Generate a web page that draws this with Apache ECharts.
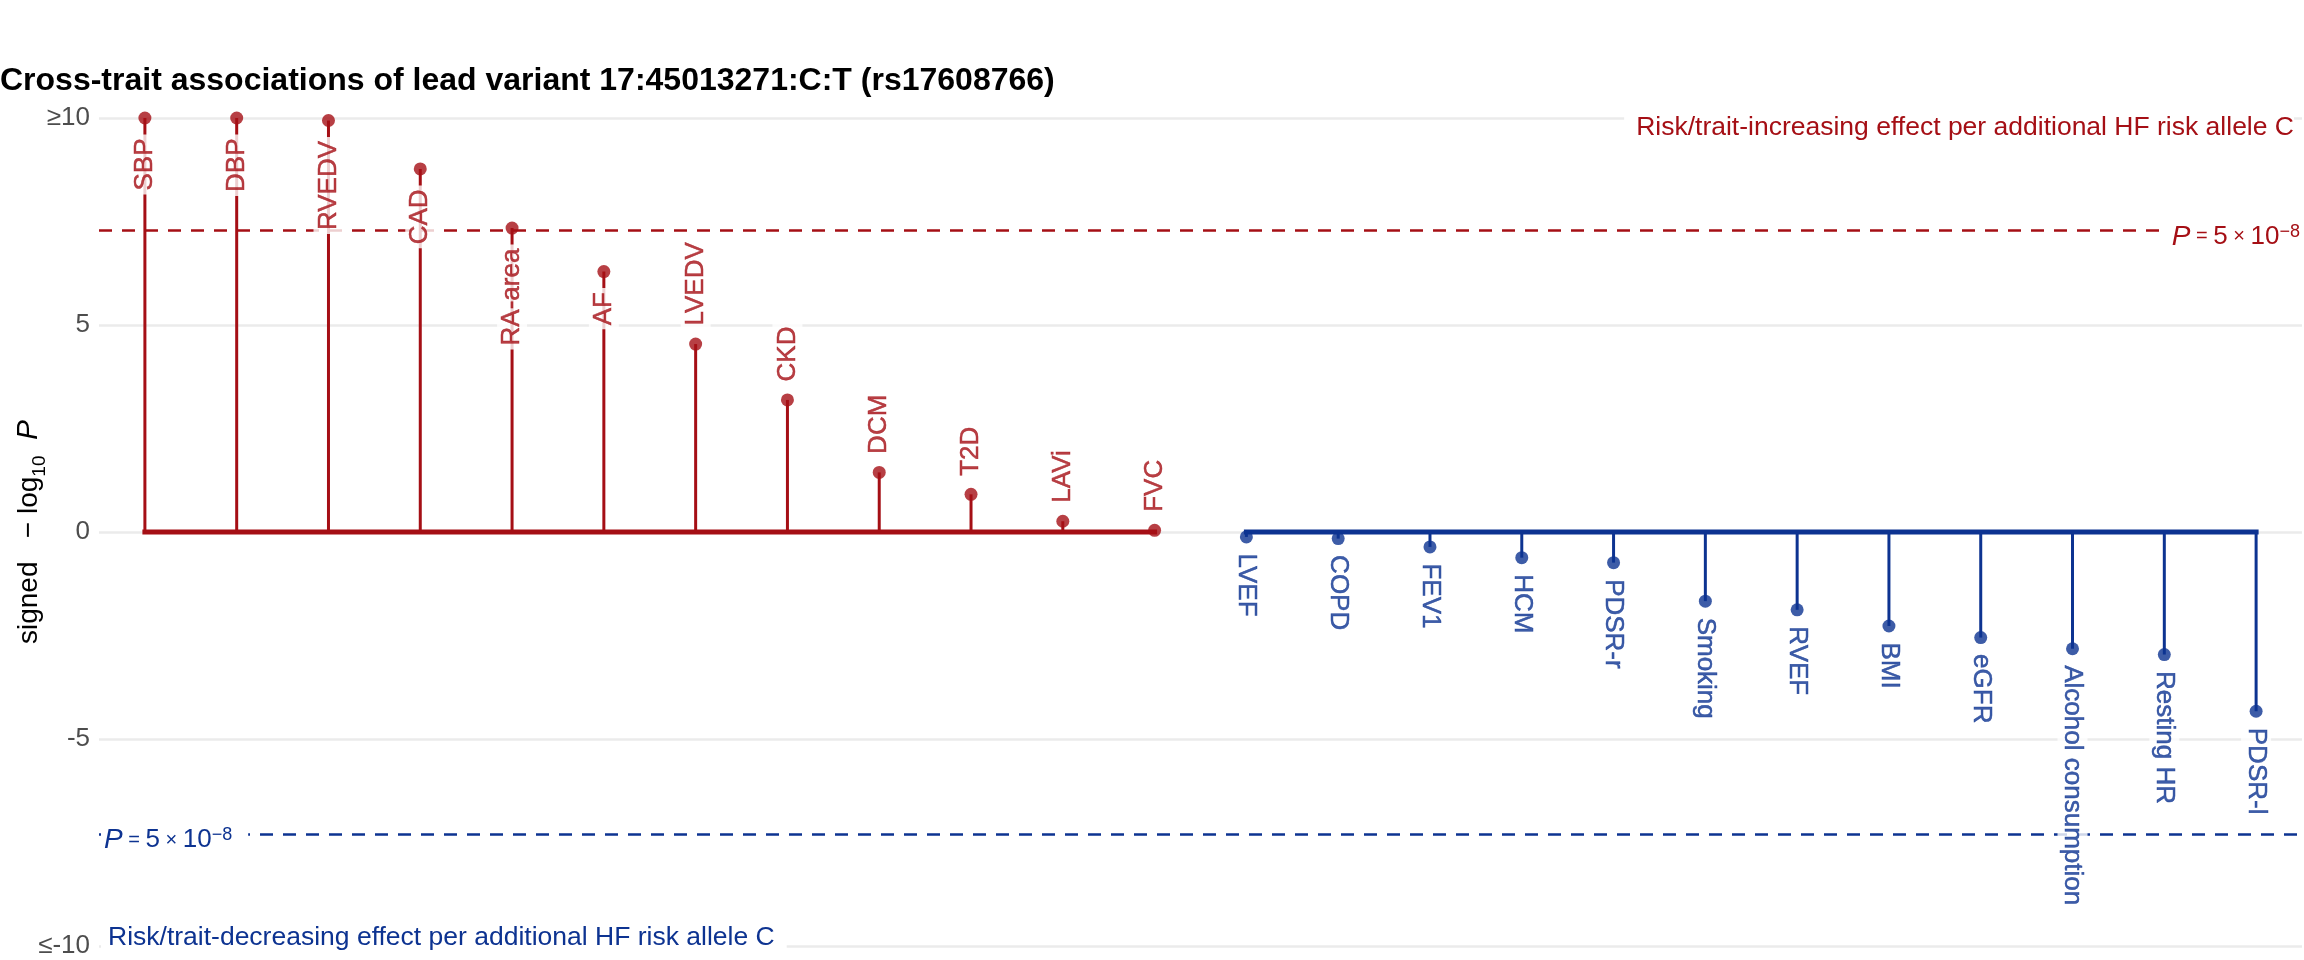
<!DOCTYPE html>
<html><head><meta charset="utf-8">
<script src="https://cdn.jsdelivr.net/npm/echarts@6/dist/echarts.min.js"></script>
<style>html,body{margin:0;padding:0;background:#fff}#c{width:2304px;height:960px}</style>
</head><body><div id="c"></div>
<script>
// ---- data ----
const riskTraits = ['SBP','DBP','RVEDV','CAD','RA-area','AF','LVEDV','CKD','DCM','T2D','LAVi','FVC'];
const riskValues = [10, 10, 9.94, 8.77, 7.34, 6.29, 4.54, 3.19, 1.44, 0.91, 0.26, 0.04];
const protTraits = ['LVEF','COPD','FEV1','HCM','PDSR-r','Smoking','RVEF','BMI','eGFR','Alcohol consumption','Resting HR','PDSR-l'];
const protValues = [-0.12, -0.16, -0.36, -0.62, -0.74, -1.67, -1.88, -2.27, -2.55, -2.82, -2.96, -4.33];
const yTickLabels = {'10': '\u226510', '5': '5', '0': '0', '-5': '-5', '-10': '\u2264-10'};
const gwThreshold = 7.3; // -log10(5e-8)
const titleText = 'Cross-trait associations of lead variant 17:45013271:C:T (rs17608766)';
const upText = 'Risk/trait-increasing effect per additional HF risk allele C';
const downText = 'Risk/trait-decreasing effect per additional HF risk allele C';

// ---- styles ----
const RED = '#a50f15', BLUE = '#0d3391';
const FONT = '"Liberation Sans", Arial, Helvetica, sans-serif';
const LBL = 26;

const categories = riskTraits.concat(protTraits);
const nR = riskTraits.length;
const allValues = riskValues.concat(protValues);

const chart = echarts.init(document.getElementById('c'), null, {renderer: 'canvas'});

const stemData = allValues.map((v, i) => ({value: v, itemStyle: {color: i < nR ? RED : BLUE}}));
const riskBase = categories.map((c, i) => i < nR ? 0 : null);
const protBase = categories.map((c, i) => i >= nR ? 0 : null);

const riskPts = riskValues.map((v, i) => {
  const inside = v >= 5;
  return {
    value: [i, v],
    label: {
      position: inside ? 'bottom' : 'top',
      align: inside ? 'right' : 'left',
      distance: inside ? 10 : 8
    }
  };
});
const protPts = protValues.map((v, i) => ({value: [nR + i, v]}));

const labelBase = {
  show: true, fontSize: LBL, fontFamily: FONT, verticalAlign: 'middle',
  backgroundColor: '#fff', padding: [0, 4, 0, 4], lineHeight: 30, textBorderWidth: 0.5
};

const option = {
  animation: false,
  backgroundColor: '#fff',
  title: {
    text: titleText, left: 0, top: 65, padding: 0,
    textStyle: {fontSize: 32, fontWeight: 'bold', color: '#000', fontFamily: FONT}
  },
  grid: {left: 99, right: 2, top: 118, bottom: 14, containLabel: false, outerBoundsMode: 'none'},
  xAxis: {
    type: 'category', data: categories, boundaryGap: true,
    axisLine: {show: false}, axisTick: {show: false}, axisLabel: {show: false}, splitLine: {show: false}
  },
  yAxis: {
    type: 'value', min: -10, max: 10, interval: 5,
    axisLine: {show: false}, axisTick: {show: false},
    splitLine: {show: true, lineStyle: {color: '#ebebeb', width: 2.5}},
    axisLabel: {
      color: '#4d4d4d', fontSize: 26, fontFamily: FONT, margin: 9,
      formatter: v => yTickLabels[String(v)] ?? String(v)
    },
    name: '{t|signed   \u2212 log}{s|10}{t|  }{i|P}',
    nameLocation: 'middle', nameRotate: 90, nameGap: 50, nameMoveOverlap: false,
    nameTextStyle: {
      color: '#000', fontFamily: FONT,
      rich: {
        t: {fontSize: 28, lineHeight: 40, color: '#000', fontFamily: FONT},
        s: {fontSize: 19, lineHeight: 18, verticalAlign: 'bottom', color: '#000', fontFamily: FONT},
        i: {fontSize: 30, lineHeight: 40, fontStyle: 'italic', color: '#000', fontFamily: FONT}
      }
    }
  },
  series: [
    {
      name: 'stems', type: 'bar', data: stemData, barWidth: 3, z: 2,
      markLine: {
        silent: true, symbol: 'none', label: {show: false},
        data: [
          {yAxis: gwThreshold, lineStyle: {color: RED, type: [13, 10], width: 2.5}},
          {yAxis: -gwThreshold, lineStyle: {color: BLUE, type: [13, 10], width: 2.5}}
        ]
      }
    },
    {
      name: 'riskBase', type: 'line', data: riskBase, symbol: 'none', z: 3,
      lineStyle: {color: RED, width: 5, cap: 'square'}
    },
    {
      name: 'protBase', type: 'line', data: protBase, symbol: 'none', z: 3,
      lineStyle: {color: BLUE, width: 5, cap: 'square'}
    },
    {
      name: 'riskPts', type: 'scatter', data: riskPts, symbol: 'circle', symbolSize: 13, z: 5,
      itemStyle: {color: RED},
      label: Object.assign({}, labelBase, {
        color: RED, textBorderColor: RED, rotate: 90,
        formatter: p => riskTraits[p.dataIndex]
      })
    },
    {
      name: 'protPts', type: 'scatter', data: protPts, symbol: 'circle', symbolSize: 13, z: 5,
      itemStyle: {color: BLUE},
      label: Object.assign({}, labelBase, {
        color: BLUE, textBorderColor: BLUE, rotate: -90, position: 'bottom', align: 'left', distance: 6,
        formatter: p => protTraits[p.dataIndex]
      })
    }
  ]
};
chart.setOption(option);

// ---- annotations positioned through the axis scales ----
const rect = chart.getModel().getComponent('grid').coordinateSystem.getRect();
const py = v => chart.convertToPixel({yAxisIndex: 0}, v);
const pRich = color => ({
  it: {fontSize: 28, fontStyle: 'italic', fill: color, fontFamily: FONT},
  n: {fontSize: 26, fill: color, fontFamily: FONT},
  op: {fontSize: 20, fill: color, fontFamily: FONT},
  sup: {fontSize: 18, fill: color, fontFamily: FONT, verticalAlign: 'top', lineHeight: 16}
});
const pText = '{it|P}{op| = }{n|5}{op| \u00d7 }{n|10}{sup|\u22128}';

chart.setOption({
  graphic: [
    {
      type: 'text', z: 100, x: rect.x + rect.width - 8, y: py(10) + 10,
      style: {text: upText, fill: RED, fontSize: 26.5, fontFamily: FONT,
        align: 'right', verticalAlign: 'middle', backgroundColor: '#fff', padding: [2, 0, 2, 12]}
    },
    {
      type: 'text', z: 100, x: rect.x + 2, y: py(-10) - 8,
      style: {text: downText, fill: BLUE, fontSize: 26.5, fontFamily: FONT,
        align: 'left', verticalAlign: 'middle', backgroundColor: '#fff', padding: [2, 12, 2, 7]}
    },
    {
      type: 'text', z: 100, x: rect.x + rect.width, y: py(gwThreshold) + 7,
      style: {text: pText, rich: pRich(RED), fill: RED, fontSize: 26, fontFamily: FONT,
        align: 'right', verticalAlign: 'middle', backgroundColor: '#fff', padding: [2, 2, 2, 5]}
    },
    {
      type: 'text', z: 100, x: rect.x + 2, y: py(-gwThreshold) + 6,
      style: {text: pText, rich: pRich(BLUE), fill: BLUE, fontSize: 26, fontFamily: FONT,
        align: 'left', verticalAlign: 'middle', backgroundColor: '#fff', padding: [2, 16, 2, 3]}
    }
  ]
});
</script>
</body></html>
